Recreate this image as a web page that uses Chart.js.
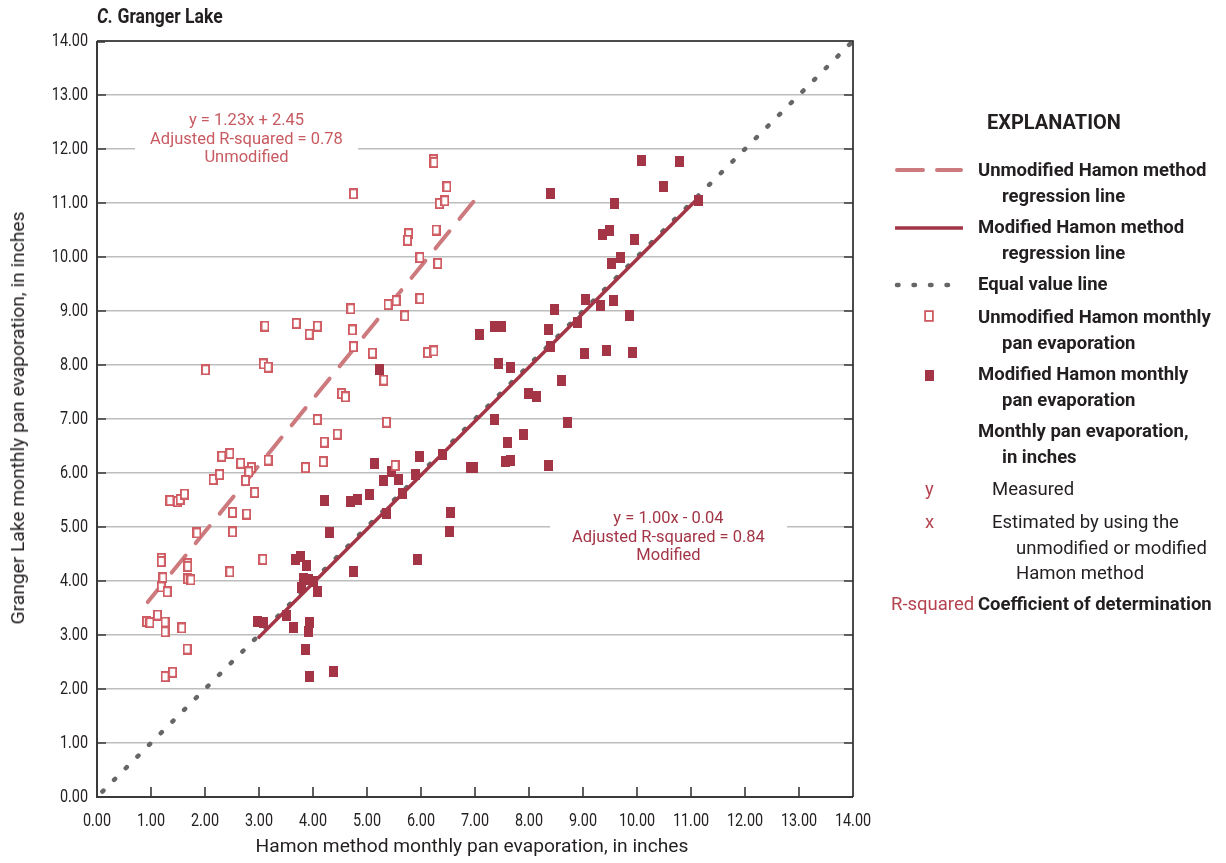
<!DOCTYPE html>
<html>
<head>
<meta charset="utf-8">
<title>C. Granger Lake</title>
<script src="https://cdn.jsdelivr.net/npm/chart.js@4.4.1/dist/chart.umd.min.js"></script>
<style>
  body { margin: 0; background: #fff; }
  #wrap { position: relative; width: 1226px; height: 863px; overflow: hidden;
          font-family: Roboto, "Liberation Sans", sans-serif; color: #231f20; }
  #wrap canvas { position: absolute; left: 0; top: 0; }
  .t { position: absolute; white-space: nowrap; font-size: 18.5px; line-height: 22px; transform-origin: 0 50%; }
  .b { font-weight: bold; }
  .red { color: #b5434f; }
  .note { position: absolute; background: #fff; text-align: center; font-size: 16.5px; line-height: 18.5px; }
  .axt { position: absolute; white-space: nowrap; font-size: 19.2px; line-height: 20px; }
  #legendLines { position: absolute; left: 880px; top: 150px; }
</style>
</head>
<body>
<div id="wrap">
  <canvas id="chart" width="1226" height="863"></canvas>

  <div class="t b" style="left:97px; top:6px; font-size:19.5px; transform:scaleX(0.9);"><i>C.</i> Granger Lake</div>

  <div class="axt" style="left:472px; top:846px; transform:translate(-50%,-50%);">Hamon method monthly pan evaporation, in inches</div>
  <div class="axt" style="left:18px; top:418px; transform:translate(-50%,-50%) rotate(-90deg);">Granger Lake monthly pan evaporation, in inches</div>

  <div class="note" style="left:135px; top:111px; width:223px; color:#c85a61;">
    y = 1.23x + 2.45<br>Adjusted R-squared = 0.78<br>Unmodified
  </div>
  <div class="note" style="left:550px; top:509px; width:237px; color:#a33546;">
    y = 1.00x - 0.04<br>Adjusted R-squared = 0.84<br>Modified
  </div>

  <svg id="legendLines" width="100" height="240">
    <line x1="17" y1="20" x2="81" y2="20" stroke="#cc7a7e" stroke-width="4" stroke-linecap="round" stroke-dasharray="26 14"/>
    <line x1="15" y1="78" x2="83" y2="78" stroke="#a33546" stroke-width="3.5"/>
    <line x1="17" y1="135" x2="83" y2="135" stroke="#666" stroke-width="4.5" stroke-linecap="round" stroke-dasharray="1.5 15"/>
    <rect x="45.1" y="161.1" width="7.8" height="9.8" fill="none" stroke="#cf5a61" stroke-width="1.8"/>
    <rect x="45" y="220" width="9" height="11" fill="#a33546"/>
  </svg>

  <div class="t b" style="left:987px; top:111px; font-size:20px;">EXPLANATION</div>
  <div class="t b" style="left:978px; top:159px;">Unmodified Hamon method</div>
  <div class="t b" style="left:1002px; top:185px;">regression line</div>
  <div class="t b" style="left:978px; top:216px;">Modified Hamon method</div>
  <div class="t b" style="left:1002px; top:242px;">regression line</div>
  <div class="t b" style="left:978px; top:273px;">Equal value line</div>
  <div class="t b" style="left:978px; top:306px;">Unmodified Hamon monthly</div>
  <div class="t b" style="left:1002px; top:332px;">pan evaporation</div>
  <div class="t b" style="left:978px; top:363px;">Modified Hamon monthly</div>
  <div class="t b" style="left:1002px; top:389px;">pan evaporation</div>
  <div class="t b" style="left:978px; top:420px;">Monthly pan evaporation,</div>
  <div class="t b" style="left:1002px; top:446px;">in inches</div>
  <div class="t red" style="left:925px; top:478px;">y</div>
  <div class="t" style="left:992px; top:478px;">Measured</div>
  <div class="t red" style="left:925px; top:511px;">x</div>
  <div class="t" style="left:992px; top:511px;">Estimated by using the</div>
  <div class="t" style="left:1016px; top:537px;">unmodified or modified</div>
  <div class="t" style="left:1016px; top:562px;">Hamon method</div>
  <div class="t red" style="left:891px; top:593px;">R-squared</div>
  <div class="t b" style="left:978px; top:593px;">Coefficient of determination</div>
</div>

<script>
// Unmodified Hamon estimate (x) vs measured pan evaporation (y), inches
const unmodX = [0.92, 0.98, 1.12, 1.26, 1.26, 1.57, 1.67, 1.26, 1.40, 1.19, 1.19, 1.22, 1.19, 1.30, 1.68, 1.68,
  1.68, 1.74, 1.85, 1.35, 1.49, 1.54, 1.62, 2.15, 2.27, 2.31, 2.46, 2.66, 2.86, 2.81, 2.75, 2.92,
  2.51, 2.77, 2.51, 2.46, 3.07, 3.17, 3.86, 4.08, 4.19, 4.21, 4.45, 4.53, 4.60, 5.31, 5.36, 5.52,
  2.01, 3.11, 3.08, 3.17, 3.69, 3.93, 4.08, 4.70, 4.73, 4.75, 5.10, 5.39, 5.54, 5.98, 5.70, 6.12,
  6.24, 6.23, 6.24, 4.75, 6.48, 6.34, 6.44, 5.77, 5.75, 6.28, 5.98, 6.31];
const unmodY = [3.25, 3.23, 3.37, 3.24, 3.06, 3.13, 2.74, 2.23, 2.31, 4.42, 4.36, 4.06, 3.89, 3.80, 4.32, 4.27,
  4.04, 4.02, 4.89, 5.49, 5.47, 5.51, 5.61, 5.88, 5.97, 6.31, 6.36, 6.18, 6.10, 6.02, 5.86, 5.64,
  5.27, 5.24, 4.91, 4.17, 4.40, 6.24, 6.10, 6.99, 6.21, 6.57, 6.72, 7.47, 7.41, 7.72, 6.94, 6.14,
  7.91, 8.72, 8.02, 7.96, 8.77, 8.57, 8.72, 9.04, 8.65, 8.34, 8.22, 9.12, 9.19, 9.23, 8.91, 8.23,
  8.26, 11.80, 11.75, 11.17, 11.30, 10.99, 11.04, 10.43, 10.31, 10.50, 9.99, 9.88];

// Modified Hamon estimate (x) vs measured pan evaporation (y), inches
const modX = [4.22, 4.30, 4.69, 4.82, 5.05, 5.14, 5.31, 5.46, 5.59, 5.66, 5.36, 5.98, 5.90, 6.39, 6.91, 6.97,
  6.54, 6.53, 5.93, 4.75, 3.67, 3.76, 3.88, 3.82, 3.91, 4.01, 3.78, 4.08, 2.98, 3.09, 3.51, 3.64,
  3.93, 3.91, 3.86, 3.93, 4.38, 5.23, 7.09, 7.37, 7.49, 8.48, 8.36, 8.39, 7.43, 7.65, 7.99, 8.13,
  7.36, 7.89, 7.60, 7.56, 7.65, 8.36, 8.40, 10.09, 10.79, 10.49, 11.14, 9.59, 9.36, 9.49, 9.96, 9.53,
  9.69, 9.04, 9.33, 9.57, 9.87, 8.89, 9.02, 9.43, 9.92, 8.61, 8.71];
const modY = [5.49, 4.89, 5.47, 5.51, 5.61, 6.18, 5.87, 6.03, 5.88, 5.62, 5.25, 6.31, 5.98, 6.35, 6.10, 6.11,
  5.27, 4.91, 4.40, 4.17, 4.39, 4.45, 4.29, 4.05, 4.02, 4.00, 3.88, 3.80, 3.25, 3.23, 3.36, 3.13,
  3.23, 3.06, 2.74, 2.23, 2.32, 7.91, 8.57, 8.72, 8.72, 9.03, 8.65, 8.34, 8.02, 7.96, 7.47, 7.41,
  6.99, 6.72, 6.56, 6.21, 6.24, 6.14, 11.17, 11.78, 11.77, 11.30, 11.04, 10.99, 10.42, 10.49, 10.32, 9.88,
  9.99, 9.22, 9.11, 9.19, 8.91, 8.78, 8.22, 8.26, 8.23, 7.72, 6.94];

// regression and 1:1 lines (end points)
const unmodLineX = [0.94, 7.09];
const unmodLineY = [3.61, 11.17];
const modLineX = [2.98, 11.13];
const modLineY = [2.94, 11.09];
const equalLineX = [0.1, 14];
const equalLineY = [0.1, 14];

const axisMin = 0, axisMax = 14;
const squeeze = 0.8;   // narrow the tick digits like the condensed original

const pts = (xs, ys) => xs.map((x, i) => ({ x: x, y: ys[i] }));

function marker(w, h, fill, stroke, lw) {
  const c = document.createElement('canvas');
  c.width = w; c.height = h;
  const g = c.getContext('2d');
  if (fill) { g.fillStyle = fill; g.fillRect(0, 0, w, h); }
  if (stroke) { g.strokeStyle = stroke; g.lineWidth = lw; g.strokeRect(lw / 2, lw / 2, w - lw, h - lw); }
  return c;
}
const hollowSq = marker(9, 11, '#fff', '#cf5a61', 1.9);
const filledSq = marker(9, 11, '#a33546', null, 0);

// frame, inward tick marks and tick labels
const framePlugin = {
  id: 'frame',
  afterDraw(chart) {
    const { ctx, chartArea: a, scales } = chart;
    ctx.save();
    ctx.lineCap = 'butt';
    ctx.strokeStyle = '#3a3a3a';
    ctx.lineWidth = 2;
    ctx.beginPath();
    ctx.moveTo(a.left, a.top); ctx.lineTo(a.left, a.bottom); ctx.lineTo(a.right, a.bottom);
    ctx.stroke();
    ctx.strokeStyle = '#111';
    ctx.lineWidth = 1.5;
    ctx.beginPath();
    ctx.moveTo(a.left, a.top); ctx.lineTo(a.right, a.top); ctx.lineTo(a.right, a.bottom);
    ctx.stroke();
    ctx.strokeStyle = '#3a3a3a';
    ctx.lineWidth = 1.6;
    ctx.beginPath();
    for (let v = axisMin + 1; v < axisMax; v++) {
      const y = scales.y.getPixelForValue(v);
      ctx.moveTo(a.left, y); ctx.lineTo(a.left + 9, y);
      ctx.moveTo(a.right, y); ctx.lineTo(a.right - 9, y);
      const x = scales.x.getPixelForValue(v);
      ctx.moveTo(x, a.bottom); ctx.lineTo(x, a.bottom - 10);
    }
    const yt = scales.y.getPixelForValue(axisMax);
    ctx.moveTo(a.left, yt + 1); ctx.lineTo(a.left + 8, yt + 1);
    ctx.stroke();

    ctx.fillStyle = '#231f20';
    ctx.font = '18px Roboto';
    ctx.textAlign = 'right';
    ctx.textBaseline = 'middle';
    scales.y.ticks.forEach(t => {
      ctx.save();
      ctx.translate(a.left - 9, scales.y.getPixelForValue(t.value));
      ctx.scale(squeeze, 1);
      ctx.fillText(t.value.toFixed(2), 0, 0);
      ctx.restore();
    });
    ctx.textAlign = 'center';
    ctx.textBaseline = 'alphabetic';
    scales.x.ticks.forEach(t => {
      ctx.save();
      ctx.translate(scales.x.getPixelForValue(t.value), a.bottom + 29);
      ctx.scale(squeeze, 1);
      ctx.fillText(t.value.toFixed(2), 0, 0);
      ctx.restore();
    });
    ctx.restore();
  }
};

Chart.defaults.font.family = 'Roboto';

new Chart(document.getElementById('chart').getContext('2d'), {
  type: 'scatter',
  data: {
    datasets: [
      { label: 'Unmodified Hamon monthly pan evaporation', data: pts(unmodX, unmodY),
        pointStyle: hollowSq, pointRadius: 5 },
      { label: 'Modified Hamon monthly pan evaporation', data: pts(modX, modY),
        pointStyle: filledSq, pointRadius: 5 },
      { label: 'Modified Hamon method regression line', data: pts(modLineX, modLineY), showLine: true,
        borderColor: '#a33546', borderWidth: 3.5, pointRadius: 0 },
      { label: 'Unmodified Hamon method regression line', data: pts(unmodLineX, unmodLineY), showLine: true,
        borderColor: '#cc7a7e', borderWidth: 4, borderDash: [22, 16], borderCapStyle: 'round', pointRadius: 0 },
      { label: 'Equal value line', data: pts(equalLineX, equalLineY), showLine: true,
        borderColor: '#666', borderWidth: 4.5, borderDash: [1.5, 15], borderCapStyle: 'round', pointRadius: 0 }
    ]
  },
  options: {
    responsive: false,
    animation: false,
    layout: { padding: { left: 0, top: 41, right: 373, bottom: 0 }, autoPadding: false },
    plugins: { legend: { display: false }, tooltip: { enabled: false } },
    scales: {
      x: {
        type: 'linear', min: axisMin, max: axisMax,
        afterFit: s => { s.height = 66; },
        border: { display: false },
        grid: { display: false },
        ticks: { stepSize: 1, display: false }
      },
      y: {
        type: 'linear', min: axisMin, max: axisMax,
        afterFit: s => { s.width = 97; },
        border: { display: false },
        grid: { drawTicks: false, lineWidth: 1.5,
                color: c => (c.tick.value > axisMin && c.tick.value < axisMax) ? '#bdbdbd' : 'rgba(0,0,0,0)' },
        ticks: { stepSize: 1, display: false }
      }
    }
  },
  plugins: [framePlugin]
});
</script>
</body>
</html>
